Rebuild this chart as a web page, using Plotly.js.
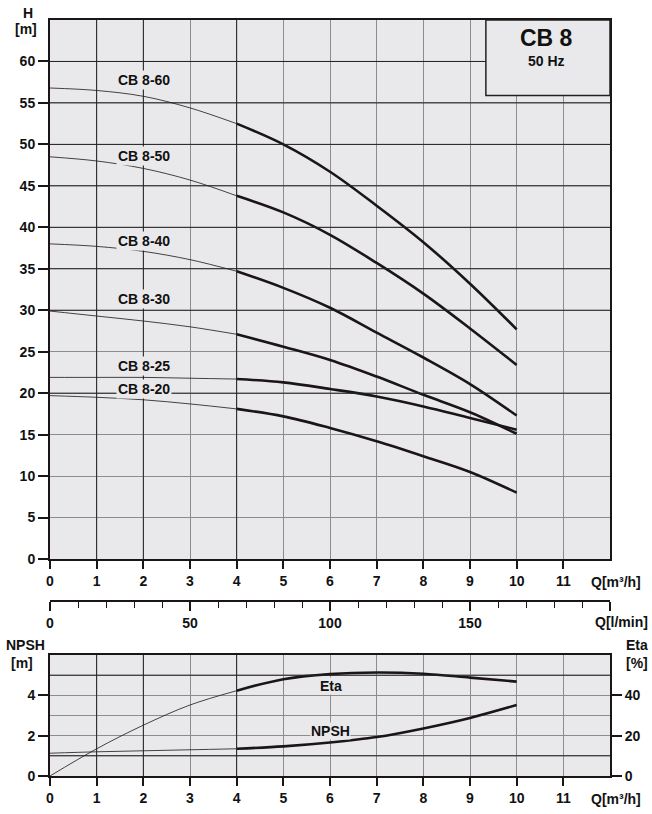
<!DOCTYPE html>
<html>
<head>
<meta charset="utf-8">
<script src="https://cdn.plot.ly/plotly-3.0.1.min.js"></script>
<style>html,body{margin:0;padding:0;background:#fff;}#chart{width:652px;height:814px;}</style>
</head>
<body>
<div id="chart"></div>
<script>
// ---- data ----
const Q = [0, 1, 2, 3, 4, 5, 6, 7, 8, 9, 10];            // m3/h
const H_CB8_60 = [56.8, 56.5, 55.8, 54.4, 52.5, 50.0, 46.7, 42.6, 38.2, 33.2, 27.7];
const H_CB8_50 = [48.5, 48.0, 47.1, 45.7, 43.8, 41.8, 39.1, 35.7, 32.0, 27.8, 23.4];
const H_CB8_40 = [38.0, 37.7, 37.1, 36.1, 34.7, 32.7, 30.3, 27.3, 24.3, 21.1, 17.3];
const H_CB8_30 = [29.9, 29.3, 28.7, 28.0, 27.1, 25.6, 24.0, 22.0, 19.8, 17.7, 15.1];
const H_CB8_25 = [21.9, 21.9, 21.9, 21.8, 21.7, 21.3, 20.5, 19.6, 18.4, 17.0, 15.6];
const H_CB8_20 = [19.7, 19.5, 19.2, 18.7, 18.1, 17.2, 15.8, 14.2, 12.4, 10.5, 8.0];
const curveNames = ['CB 8-60', 'CB 8-50', 'CB 8-40', 'CB 8-30', 'CB 8-25', 'CB 8-20'];
const curveLabelH = [57.8, 48.6, 38.4, 31.3, 23.3, 20.5];
const ETA = [0, 13.5, 25.2, 35.2, 42.3, 48.0, 50.5, 51.3, 50.7, 48.8, 46.8];   // %
const NPSH = [1.13, 1.20, 1.25, 1.30, 1.35, 1.47, 1.66, 1.93, 2.36, 2.88, 3.52]; // m
const Q_TICKS = [0, 1, 2, 3, 4, 5, 6, 7, 8, 9, 10, 11];
const H_TICKS = [0, 5, 10, 15, 20, 25, 30, 35, 40, 45, 50, 55, 60];
const LMIN_TICKS = [0, 50, 100, 150, 200];
const LMIN_TEXT = ['0', '50', '100', '150', ''];
const NPSH_TICKS = [0, 2, 4];
const ETA_TICKS = [0, 20, 40];
const DARK_Q = [1, 2, 4];
const DARK_H = [20, 30, 35, 40, 45, 50, 55, 60];
const DARK_NPSH = [1, 5];
const Q_SPLIT = 4; // thin part up to here, thick beyond

// ---- styles ----
const INK = '#1b1516';
const BG = '#e9e9eb';
const GRID = '#8c8c8c';
const FONT = {family: 'Liberation Sans, Arial, sans-serif', size: 14, color: '#111', weight: 'bold'};

const iSplit = Q.indexOf(Q_SPLIT);
function split(ys, xa, ya) {
  return [
    {x: Q.slice(0, iSplit + 1), y: ys.slice(0, iSplit + 1), xaxis: xa, yaxis: ya, mode: 'lines',
     line: {color: INK, width: 0.8, shape: 'spline'}, hoverinfo: 'skip', showlegend: false},
    {x: Q.slice(iSplit), y: ys.slice(iSplit), xaxis: xa, yaxis: ya, mode: 'lines',
     line: {color: INK, width: 2.6, shape: 'spline'}, hoverinfo: 'skip', showlegend: false}
  ];
}

const seriesH = [H_CB8_60, H_CB8_50, H_CB8_40, H_CB8_30, H_CB8_25, H_CB8_20];
let traces = [];
seriesH.forEach(s => { traces = traces.concat(split(s, 'x', 'y')); });
traces = traces.concat(split(ETA, 'x2', 'y3'));
traces = traces.concat(split(NPSH, 'x2', 'y2'));
// empty trace to hold the l/min axis
traces.push({x: [], y: [], xaxis: 'x3', yaxis: 'y', mode: 'lines', hoverinfo: 'skip', showlegend: false});

const DARKLINE = {color: '#222', width: 1};
const shapes = [];
DARK_Q.forEach(q => {
  shapes.push({type: 'line', xref: 'x', yref: 'paper', x0: q, x1: q, y0: (776 - 559) / 756, y1: 1, layer: 'above', line: DARKLINE});
  shapes.push({type: 'line', xref: 'x2', yref: 'paper', x0: q, x1: q, y0: 0, y1: (776 - 655) / 756, layer: 'above', line: DARKLINE});
});
DARK_H.forEach(h => {
  shapes.push({type: 'line', xref: 'paper', yref: 'y', x0: 0, x1: 1, y0: h, y1: h, layer: 'above', line: DARKLINE});
});
DARK_NPSH.forEach(h => {
  shapes.push({type: 'line', xref: 'paper', yref: 'y2', x0: 0, x1: 1, y0: h, y1: h, layer: 'above', line: DARKLINE});
});
// title box top-right
shapes.push({type: 'rect', xref: 'x', yref: 'y', x0: 9.34, x1: 12, y0: 55.9, y1: 65, layer: 'above',
  fillcolor: BG, line: {color: '#222', width: 1.5}});

const annotations = [];
curveNames.forEach((n, i) => {
  annotations.push({text: n, x: 2.01, y: curveLabelH[i], xref: 'x', yref: 'y', showarrow: false,
    xanchor: 'center', yanchor: 'middle', bgcolor: BG, borderpad: 1, font: FONT});
});
function pa(text, px, py, extra) {
  return Object.assign({text: text, x: (px - 50) / 560, y: (776 - py) / 756, xref: 'paper', yref: 'paper',
    xanchor: 'center', yanchor: 'middle', showarrow: false, font: FONT}, extra || {});
}
annotations.push({text: 'CB 8', x: 10.64, y: 62.8, xref: 'x', yref: 'y', xanchor: 'center', yanchor: 'middle',
  showarrow: false, font: Object.assign({}, FONT, {size: 23})});
annotations.push({text: '50 Hz', x: 10.64, y: 60.0, xref: 'x', yref: 'y', xanchor: 'center', yanchor: 'middle',
  showarrow: false, font: Object.assign({}, FONT, {size: 14})});
annotations.push(pa('H', 27.5, 13));
annotations.push(pa('[m]', 25.5, 28.5));
annotations.push(pa('Q[m³/h]', 616, 582));
annotations.push(pa('Q[l/min]', 621, 622));
annotations.push(pa('NPSH', 25, 645));
annotations.push(pa('[m]', 22, 663));
annotations.push(pa('Eta', 637, 645));
annotations.push(pa('[%]', 637, 663));
annotations.push(pa('Q[m³/h]', 616, 799));
annotations.push({text: 'Eta', x: 6.02, y: 4.45, xref: 'x2', yref: 'y2', xanchor: 'center', yanchor: 'middle',
  showarrow: false, bgcolor: BG, borderpad: 0, font: FONT});
annotations.push({text: 'NPSH', x: 6.02, y: 2.21, xref: 'x2', yref: 'y2', xanchor: 'center', yanchor: 'middle',
  showarrow: false, bgcolor: BG, borderpad: 0, font: FONT});

const topDom = [(776 - 559) / 756, 1];
const botDom = [0, (776 - 655) / 756];

const axBase = {showline: true, linecolor: INK, linewidth: 2, ticks: 'outside', tickcolor: INK,
  tickwidth: 2, tickfont: FONT, zeroline: false, fixedrange: true};

const layout = {
  width: 652, height: 814,
  margin: {l: 50, r: 42, t: 20, b: 38},
  paper_bgcolor: '#ffffff', plot_bgcolor: BG,
  font: FONT, showlegend: false,
  xaxis: Object.assign({}, axBase, {domain: [0, 1], anchor: 'y', range: [0, 12], tickmode: 'array',
    tickvals: Q_TICKS, ticklen: 8, showgrid: true, gridcolor: GRID, gridwidth: 1, mirror: true}),
  yaxis: Object.assign({}, axBase, {domain: topDom, anchor: 'x', range: [0, 65], tickmode: 'array',
    tickvals: H_TICKS, ticklen: 10, showgrid: true, gridcolor: GRID, gridwidth: 1, mirror: true}),
  xaxis3: Object.assign({}, axBase, {overlaying: 'x', anchor: 'free', position: (776 - 601) / 756,
    side: 'bottom', range: [0, 200], tickmode: 'array', tickvals: LMIN_TICKS, ticktext: LMIN_TEXT,
    ticklen: 9, showgrid: false, linewidth: 2,
    minor: {tickmode: 'linear', tick0: 0, dtick: 10, ticks: 'outside', ticklen: 6, tickcolor: INK, tickwidth: 1, showgrid: false}}),
  xaxis2: Object.assign({}, axBase, {domain: [0, 1], anchor: 'y2', range: [0, 12], tickmode: 'array',
    tickvals: Q_TICKS, ticklen: 8, showgrid: true, gridcolor: GRID, gridwidth: 1, mirror: true}),
  yaxis2: Object.assign({}, axBase, {domain: botDom, anchor: 'x2', range: [0, 6], tickmode: 'array',
    tickvals: NPSH_TICKS, ticklen: 10, showgrid: true, gridcolor: GRID, gridwidth: 1, mirror: false,
    minor: {tickmode: 'linear', tick0: 0, dtick: 1, showgrid: true, gridcolor: GRID, gridwidth: 1, ticks: ''}}),
  yaxis3: Object.assign({}, axBase, {overlaying: 'y2', anchor: 'x2', side: 'right', range: [0, 60],
    tickmode: 'array', tickvals: ETA_TICKS, ticklen: 10, showgrid: false}),
  shapes: shapes,
  annotations: annotations
};

Plotly.newPlot('chart', traces, layout, {staticPlot: true, displayModeBar: false});
</script>
</body>
</html>
